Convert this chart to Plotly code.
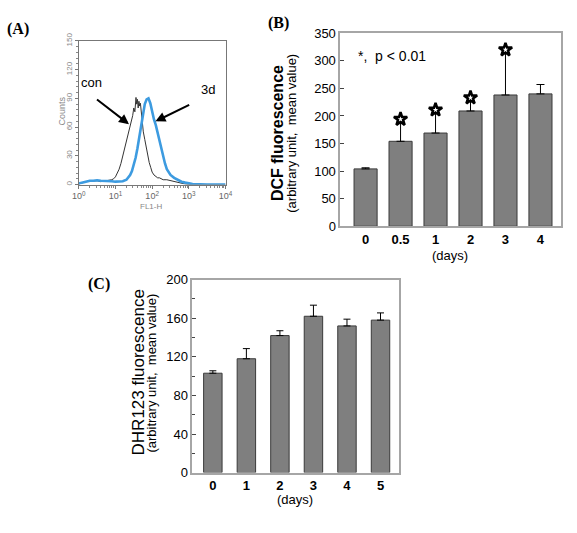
import plotly.graph_objects as go

# ---------------- Panel A: flow cytometry histogram ----------------
con_log = [0.0, 0.1, 0.2, 0.3, 0.4, 0.5, 0.6, 0.7, 0.8, 0.9, 0.95, 1.0, 1.05, 1.1, 1.15, 1.2,
           1.25, 1.3, 1.35, 1.4, 1.44, 1.47, 1.5, 1.53, 1.56, 1.58, 1.6, 1.62, 1.64, 1.66, 1.68,
           1.7, 1.73, 1.76, 1.8, 1.84, 1.88, 1.92, 1.96, 2.0, 2.05, 2.1, 2.15, 2.2, 2.3, 2.4,
           2.5, 2.6, 2.7, 2.8, 2.9, 3.0, 3.5, 4.0]
con_cnt = [0, 2, 3, 4, 3.5, 4, 3, 3.5, 4, 5, 6, 8, 12, 16, 22, 30,
           36, 44, 51, 60, 66, 72, 80, 76, 91, 84, 89, 80, 87, 82, 85,
           75, 66, 55, 47, 38, 30, 23, 18, 13, 10, 8, 7, 7, 5, 5,
           4, 3, 2, 1, 0.5, 0, 0, 0]

d3_log = [0.0, 0.1, 0.2, 0.3, 0.4, 0.5, 0.6, 0.7, 0.8, 0.9, 1.0, 1.1, 1.2, 1.3, 1.35, 1.4,
          1.45, 1.5, 1.55, 1.6, 1.65, 1.7, 1.75, 1.8, 1.85, 1.9, 1.95, 2.0, 2.05, 2.1, 2.15,
          2.2, 2.25, 2.3, 2.35, 2.4, 2.5, 2.6, 2.7, 2.8, 2.9, 3.0, 3.1, 3.5, 4.0]
d3_cnt = [1, 2, 3, 4, 4, 4.5, 4, 4, 3.5, 3.5, 3, 3, 3.5, 5, 7, 10,
          14, 20, 28, 38, 50, 62, 74, 84, 89, 90, 85, 76, 68, 62, 54,
          44, 36, 28, 22, 16, 10, 7, 5, 3, 2, 1, 0.5, 0, 0]

a_xtick_exp = [0, 1, 2, 3, 4]
a_yticks = [0, 30, 60, 90, 120, 150]

# ---------------- Panel B: DCF fluorescence ----------------
b_days = ["0", "0.5", "1", "2", "3", "4"]
b_mean = [104, 154, 169, 209, 238, 240]
b_err = [2, 35, 37, 19, 77, 17]
b_sig = [False, True, True, True, True, False]

# ---------------- Panel C: DHR123 fluorescence ----------------
c_days = ["0", "1", "2", "3", "4", "5"]
c_mean = [103, 118, 142, 162, 152, 158]
c_err = [2.5, 10.5, 5, 11.5, 7, 7.5]

W, H = 577, 533
def px(x):
    return x / W
def py(y):
    return 1 - y / H

SANS = "Liberation Sans, Arial, sans-serif"
SERIF = "Liberation Serif, Times New Roman, serif"
BAR_FILL = "#7f7f7f"
BAR_LINE = "#3a3a3a"
BOX = "#a6a6a6"

fig = go.Figure()

# Panel A traces
fig.add_trace(go.Scatter(x=[10 ** v for v in con_log], y=con_cnt, mode="lines",
                         line=dict(color="#333333", width=1), xaxis="x", yaxis="y",
                         showlegend=False, hoverinfo="skip"))
fig.add_trace(go.Scatter(x=[10 ** v for v in d3_log], y=d3_cnt, mode="lines",
                         line=dict(color="#3d9be0", width=2.6), xaxis="x", yaxis="y",
                         showlegend=False, hoverinfo="skip"))

# Panel B
bx = list(range(len(b_days)))
fig.add_trace(go.Bar(x=bx, y=b_mean, width=0.66, xaxis="x2", yaxis="y2",
                     marker=dict(color=BAR_FILL, line=dict(color=BAR_LINE, width=1)),
                     error_y=dict(type="data", array=b_err, arrayminus=[0] * len(b_err),
                                  symmetric=False, color="black", thickness=1, width=4),
                     showlegend=False, hoverinfo="skip"))
sx = [i for i, s in enumerate(b_sig) if s]
sy = [b_mean[i] + b_err[i] + 5 for i in sx]
fig.add_trace(go.Scatter(x=sx, y=sy, mode="markers", xaxis="x2", yaxis="y2",
                         marker=dict(symbol="star-open", size=10, color="black",
                                     line=dict(color="black", width=2.5)),
                         showlegend=False, hoverinfo="skip"))

# Panel C
cx = list(range(len(c_days)))
fig.add_trace(go.Bar(x=cx, y=c_mean, width=0.55, xaxis="x3", yaxis="y3",
                     marker=dict(color=BAR_FILL, line=dict(color=BAR_LINE, width=1)),
                     error_y=dict(type="data", array=c_err, arrayminus=[0] * len(c_err),
                                  symmetric=False, color="black", thickness=1, width=3.5),
                     showlegend=False, hoverinfo="skip"))

minor_log = [m * 10 ** k for k in range(4) for m in range(2, 10)]

fig.update_layout(
    width=W, height=H, margin=dict(l=0, r=0, t=0, b=0),
    paper_bgcolor="white", plot_bgcolor="white",
    font=dict(family=SANS, color="black"),
    # A
    xaxis=dict(domain=[px(73.5), px(224)], anchor="y", type="log", range=[0, 4],
               tickvals=[10 ** e for e in a_xtick_exp],
               ticktext=["10<sup>%d</sup>" % e for e in a_xtick_exp],
               ticks="outside", ticklen=3, tickcolor="#777",
               tickfont=dict(size=9, color="#666"),
               minor=dict(tickvals=minor_log, ticks="outside", ticklen=2, tickcolor="#888"),
               showline=True, linecolor="#777", linewidth=1, mirror=True,
               showgrid=False, zeroline=False),
    yaxis=dict(domain=[py(182), py(34)], anchor="x", range=[0, 150],
               tickvals=a_yticks, tickangle=-90,
               ticks="outside", ticklen=3, tickcolor="#777",
               tickfont=dict(size=8, color="#888"),
               minor=dict(dtick=6, ticks="outside", ticklen=2, tickcolor="#888"),
               showline=True, linecolor="#777", linewidth=1, mirror=True,
               showgrid=False, zeroline=False),
    # B
    xaxis2=dict(domain=[px(341.5), px(567.7)], anchor="y2", range=[-0.725, 5.585],
                tickvals=bx, ticktext=["<b>%s</b>" % d for d in b_days],
                ticks="", tickfont=dict(size=13),
                showline=True, linecolor=BOX, linewidth=1.5, mirror=True,
                showgrid=False, zeroline=False),
    yaxis2=dict(domain=[py(225), py(26)], anchor="x2", range=[0, 350], dtick=50,
                ticks="inside", ticklen=4, tickcolor="#444", tickfont=dict(size=13),
                showline=True, linecolor=BOX, linewidth=1.5, mirror=True,
                showgrid=False, zeroline=False),
    # C
    xaxis3=dict(domain=[px(190), px(401.7)], anchor="y3", range=[-0.61, 5.55],
                tickvals=cx, ticktext=["<b>%s</b>" % d for d in c_days],
                ticks="", tickfont=dict(size=13),
                showline=True, linecolor=BOX, linewidth=1.5, mirror=True,
                showgrid=False, zeroline=False),
    yaxis3=dict(domain=[py(479), py(280)], anchor="x3", range=[0, 200], dtick=40,
                ticks="inside", ticklen=4, tickcolor="#444", tickfont=dict(size=13),
                minor=dict(dtick=20, ticks="inside", ticklen=3, tickcolor="#444"),
                showline=True, linecolor=BOX, linewidth=1.5, mirror=True,
                showgrid=False, zeroline=False),
)

def label(text, x, y, size, angle=0, family=SANS, color="black", xanchor="center"):
    return dict(text=text, x=px(x), y=py(y), xref="paper", yref="paper",
                xanchor=xanchor, yanchor="middle", textangle=angle, showarrow=False,
                font=dict(family=family, size=size, color=color))

ann = []
# panel letters
ann.append(label("<b>(A)</b>", 11, 22, 16, family=SERIF))
ann.append(label("<b>(B)</b>", 278, 15, 16, family=SERIF))
ann.append(label("<b>(C)</b>", 94, 285, 16, family=SERIF))
# Panel A labels
ann.append(label("Counts", 56, 106, 9, angle=-90, color="#888"))
ann.append(label("FL1-H", 148, 205, 8, color="#888"))
ann.append(dict(text="con", x=0.35, y=107, xref="x", yref="y", showarrow=False,
                xanchor="center", yanchor="middle", font=dict(size=13)))
ann.append(dict(text="3d", x=3.52, y=99, xref="x", yref="y", showarrow=False,
                xanchor="center", yanchor="middle", font=dict(size=13)))
ann.append(dict(text="", x=1.37, y=63, ax=0.457, ay=90, xref="x", yref="y",
                axref="x", ayref="y", showarrow=True, arrowhead=2, arrowsize=1,
                arrowwidth=2, arrowcolor="black"))
ann.append(dict(text="", x=2.09, y=66, ax=3.05, ay=84, xref="x", yref="y",
                axref="x", ayref="y", showarrow=True, arrowhead=2, arrowsize=1,
                arrowwidth=2, arrowcolor="black"))
# Panel B labels
ann.append(label("<b>DCF fluorescence</b>", 276.7, 129, 16, angle=-90))
ann.append(label("(arbitrary unit,  mean value)", 291.7, 129, 13, angle=-90))
ann.append(label("(days)", 454, 255, 13))
ann.append(label("*,  p < 0.01", 358, 50, 14, xanchor="left"))
# Panel C labels
ann.append(label("DHR123 fluorescence", 135, 376, 17, angle=-90))
ann.append(label("(arbitrary unit,  mean value)", 148.5, 376, 13, angle=-90))
ann.append(label("(days)", 295, 507, 13))

fig.update_layout(annotations=ann)
fig.write_html("out.html")
